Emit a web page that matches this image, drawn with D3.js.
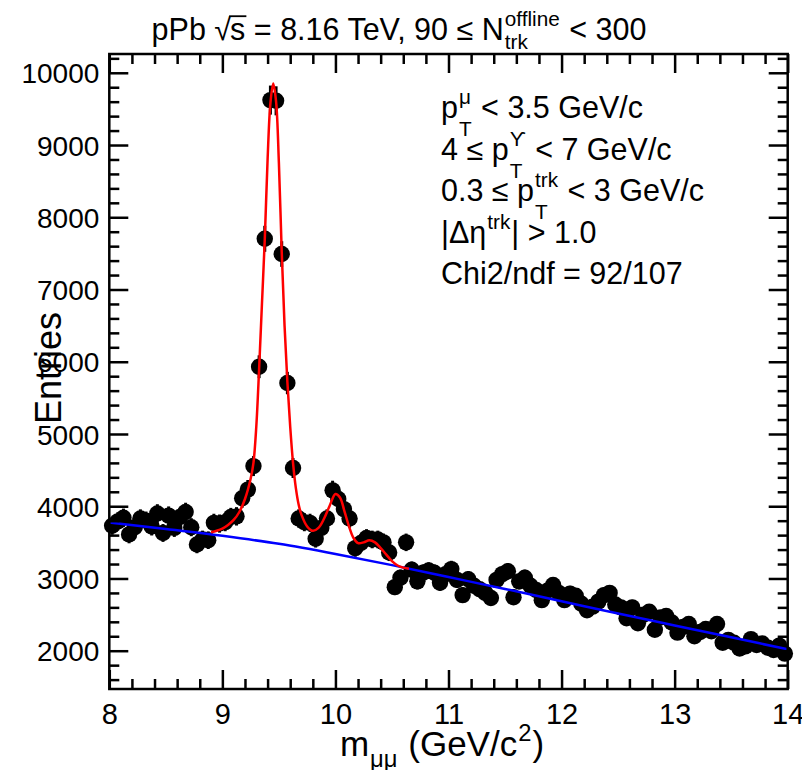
<!DOCTYPE html>
<html><head><meta charset="utf-8">
<script src="https://cdn.jsdelivr.net/npm/d3@7"></script>
<style>
body{margin:0;background:#fff}
svg text{font-family:"Liberation Sans",Arial,Helvetica,sans-serif;fill:#000;white-space:pre}
</style></head><body>
<svg id="c" width="802" height="770" xmlns="http://www.w3.org/2000/svg"></svg>
<script>
// ---------------- data ----------------
const massRange = [8, 14];
const binWidth = 0.05;
// entries per 0.05 GeV bin, bins from 8.00 to 14.00
const entries = [
  3730, 3790, 3840, 3610, 3710, 3830, 3800, 3720, 3900, 3630,
  3870, 3700, 3850, 3920, 3710, 3470, 3540, 3530, 3770, 3760,
  3780, 3850, 3860, 4110, 4230, 4556, 5931, 7702, 9622, 9612,
  7491, 5705, 4529, 3830, 3780, 3770, 3550, 3700, 3830, 4220,
  4100, 3960, 3830, 3420, 3490, 3560, 3540, 3540, 3500, 3360,
  2880, 3010, 3500, 3120, 2960, 3080, 3110, 3080, 2940, 3060,
  3130, 2980, 2770, 2990, 2900, 2850, 2800, 2730, 2980, 3060,
  3100, 2740, 2960, 3010, 2900, 2840, 2700, 2830, 2910, 2800,
  2700, 2790, 2760, 2650, 2560, 2610, 2680, 2770, 2800, 2640,
  2600, 2450, 2600, 2380, 2500, 2540, 2290, 2460, 2480, 2390,
  2250, 2330, 2370, 2200, 2260, 2300, 2270, 2370, 2110, 2150,
  2110, 2030, 2060, 2160, 2080, 2100, 2040, 2010, 2070, 1960
];
const errorScale = 2.05; // error bar half-length = errorScale * sqrt(N)

// background (blue) curve
const bkgMass   = [8, 8.5, 9, 9.5, 10, 10.5, 11, 11.5, 12, 12.5, 13, 13.5, 14];
const bkgValues = [3775, 3685, 3590, 3480, 3340, 3185, 3020, 2855, 2685, 2515, 2350, 2185, 2020];

// total fit (red) curve
const fitMass = [8.90, 8.95, 9.00, 9.05, 9.10, 9.15, 9.20, 9.25, 9.275, 9.30, 9.325, 9.35, 9.375, 9.40,
  9.425, 9.45, 9.475, 9.50, 9.525, 9.55, 9.575, 9.60, 9.625, 9.65, 9.675, 9.70, 9.75, 9.80, 9.85, 9.90,
  9.95, 10.00, 10.04, 10.08, 10.12, 10.16, 10.20, 10.25, 10.30, 10.35, 10.40, 10.45, 10.50, 10.55, 10.60, 10.65];
const fitValues = [3640, 3660, 3690, 3740, 3810, 3920, 4100, 4380, 4600, 5100, 5900, 6800, 7690, 8800,
  9580, 9850, 9600, 8750, 7520, 6500, 5720, 5100, 4600, 4250, 4020, 3880, 3720, 3660, 3700, 3830,
  4010, 4170, 4120, 3930, 3720, 3560, 3490, 3500, 3530, 3500, 3420, 3330, 3240, 3180, 3150, 3135];

const xMajorTicks = [8, 9, 10, 11, 12, 13, 14];
const yMajorTicks = [2000, 3000, 4000, 5000, 6000, 7000, 8000, 9000, 10000];
const yDomain = [1470, 10260];

// ---------------- drawing ----------------
const svg = d3.select("#c");
const L = 109.3, R = 787.7, T = 54, B = 689;
const x = d3.scaleLinear().domain(massRange).range([L, R]);
const y = d3.scaleLinear().domain(yDomain).range([B, T]);

const bins = entries.map((v, i) => ({m: massRange[0] + binWidth * (i + 0.5), v}));

// data points
const gData = svg.append("g");
gData.selectAll("line.err").data(bins).join("line")
  .attr("x1", d => x(d.m)).attr("x2", d => x(d.m))
  .attr("y1", d => y(d.v + errorScale * Math.sqrt(d.v)))
  .attr("y2", d => y(d.v - errorScale * Math.sqrt(d.v)))
  .attr("stroke", "#000").attr("stroke-width", 3);
gData.selectAll("circle").data(bins).join("circle")
  .attr("cx", d => x(d.m)).attr("cy", d => y(d.v)).attr("r", 8.2).attr("fill", "#000");

// curves
const bkgLine = d3.line().x(d => x(d[0])).y(d => y(d[1])).curve(d3.curveMonotoneX);
svg.append("path").attr("d", bkgLine(d3.zip(bkgMass, bkgValues)))
  .attr("fill", "none").attr("stroke", "#0000ff").attr("stroke-width", 2.5);
const fitLine = d3.line().x(d => x(d[0])).y(d => y(d[1])).curve(d3.curveCatmullRom.alpha(0.5));
svg.append("path").attr("d", fitLine(d3.zip(fitMass, fitValues)))
  .attr("fill", "none").attr("stroke", "#ff0000").attr("stroke-width", 2.5);

// axes (ROOT-style: ticks inside on all four sides)
const xMinor = d3.range(massRange[0], massRange[1] + 1e-6, 0.2).filter(v => Math.abs(v - Math.round(v)) > 1e-6);
const yMinor = d3.range(1600, yDomain[1], 200).filter(v => v % 1000 !== 0);
const styleAxis = g => { g.select(".domain").remove(); g.selectAll("line").attr("stroke", "#000").attr("stroke-width", 2.5); };

svg.append("g").attr("transform", `translate(0,${B})`)
  .call(d3.axisBottom(x).tickValues(xMajorTicks).tickSize(-19).tickPadding(14).tickFormat(d3.format("d")))
  .call(styleAxis)
  .call(g => g.selectAll("text").attr("font-size", 29).attr("font-family", null).attr("fill", "#000"));
svg.append("g").attr("transform", `translate(0,${B})`)
  .call(d3.axisBottom(x).tickValues(xMinor).tickSize(-10).tickFormat(""))
  .call(styleAxis);
svg.append("g").attr("transform", `translate(0,${T})`)
  .call(d3.axisTop(x).tickValues(xMajorTicks).tickSize(-19).tickFormat(""))
  .call(styleAxis);
svg.append("g").attr("transform", `translate(0,${T})`)
  .call(d3.axisTop(x).tickValues(xMinor).tickSize(-10).tickFormat(""))
  .call(styleAxis);

svg.append("g").attr("transform", `translate(${L},0)`)
  .call(d3.axisLeft(y).tickValues(yMajorTicks).tickSize(-19).tickPadding(10).tickFormat(d3.format("d")))
  .call(styleAxis)
  .call(g => g.selectAll("text").attr("font-size", 28).attr("font-family", null).attr("fill", "#000").attr("dy", "0.36em"));
svg.append("g").attr("transform", `translate(${L},0)`)
  .call(d3.axisLeft(y).tickValues(yMinor).tickSize(-10).tickFormat(""))
  .call(styleAxis);
svg.append("g").attr("transform", `translate(${R},0)`)
  .call(d3.axisRight(y).tickValues(yMajorTicks).tickSize(-19).tickFormat(""))
  .call(styleAxis);
svg.append("g").attr("transform", `translate(${R},0)`)
  .call(d3.axisRight(y).tickValues(yMinor).tickSize(-10).tickFormat(""))
  .call(styleAxis);

svg.append("rect").attr("x", L).attr("y", T).attr("width", R - L).attr("height", B - T)
  .attr("fill", "none").attr("stroke", "#000").attr("stroke-width", 2.5);

// ---------------- LaTeX-like text helper ----------------
function latex(parent, x0, y0, parts, size, anchor) {
  const g = parent.append("g");
  let cx = 0;
  const add = (txt, xx, yy, fs) => {
    const t = g.append("text").attr("x", xx).attr("y", yy).attr("font-size", fs).text(txt);
    return t.node().getComputedTextLength();
  };
  parts.forEach(p => {
    if (typeof p === "string") {
      cx += add(p, cx, 0, size);
    } else if (p.sqrt) {
      const w1 = add("√", cx, 0, size);
      const w2 = add(p.sqrt, cx + w1 - 1, 0, size);
      g.append("line").attr("x1", cx + w1 - 2).attr("x2", cx + w1 + w2).attr("y1", -size * 0.78).attr("y2", -size * 0.78)
        .attr("stroke", "#000").attr("stroke-width", 1.8);
      cx += w1 + w2 - 1;
    } else {
      const fs = size * (p.scale || 0.68);
      let w = 0;
      if (p.sup) w = Math.max(w, add(p.sup, cx + 1, -size * (p.up || 0.45), fs));
      if (p.sub) w = Math.max(w, add(p.sub, cx + 1, size * (p.down || 0.5), fs));
      cx += w + 2;
    }
  });
  let tx = x0;
  if (anchor === "middle") tx = x0 - cx / 2;
  g.attr("transform", `translate(${tx},${y0})`);
  return g;
}

// title
latex(svg, 399, 40, ["pPb ", {sqrt: "s"}, " = 8.16 TeV, 90 ≤ N", {sup: "offline", sub: "trk", up: 0.45, down: 0.3}, " < 300"], 30.5, "middle");

// info box
const infoLines = [
  ["p", {sup: "μ", sub: "T", down: 0.6}, " < 3.5 GeV/c"],
  ["4 ≤ p", {sup: "ϒ", sub: "T", down: 0.6}, " < 7 GeV/c"],
  ["0.3 ≤ p", {sup: "trk", sub: "T", down: 0.6}, " < 3 GeV/c"],
  ["|Δη", {sup: "trk"}, "| > 1.0"],
  ["Chi2/ndf = 92/107"]
];
const infoBaselines = [118, 159.5, 201, 242.5, 284];
infoLines.forEach((ln, i) => latex(svg, 441, infoBaselines[i], ln, 30.5));

// axis titles
latex(svg, 442, 756, ["m", {sub: "μμ", down: 0.3}, " (GeV/c", {sup: "2", up: 0.42}, ")"], 35, "middle");
svg.append("text").attr("transform", "translate(61,368) rotate(-90)").attr("text-anchor", "middle")
  .attr("font-size", 36).text("Entries");
</script>
</body></html>
